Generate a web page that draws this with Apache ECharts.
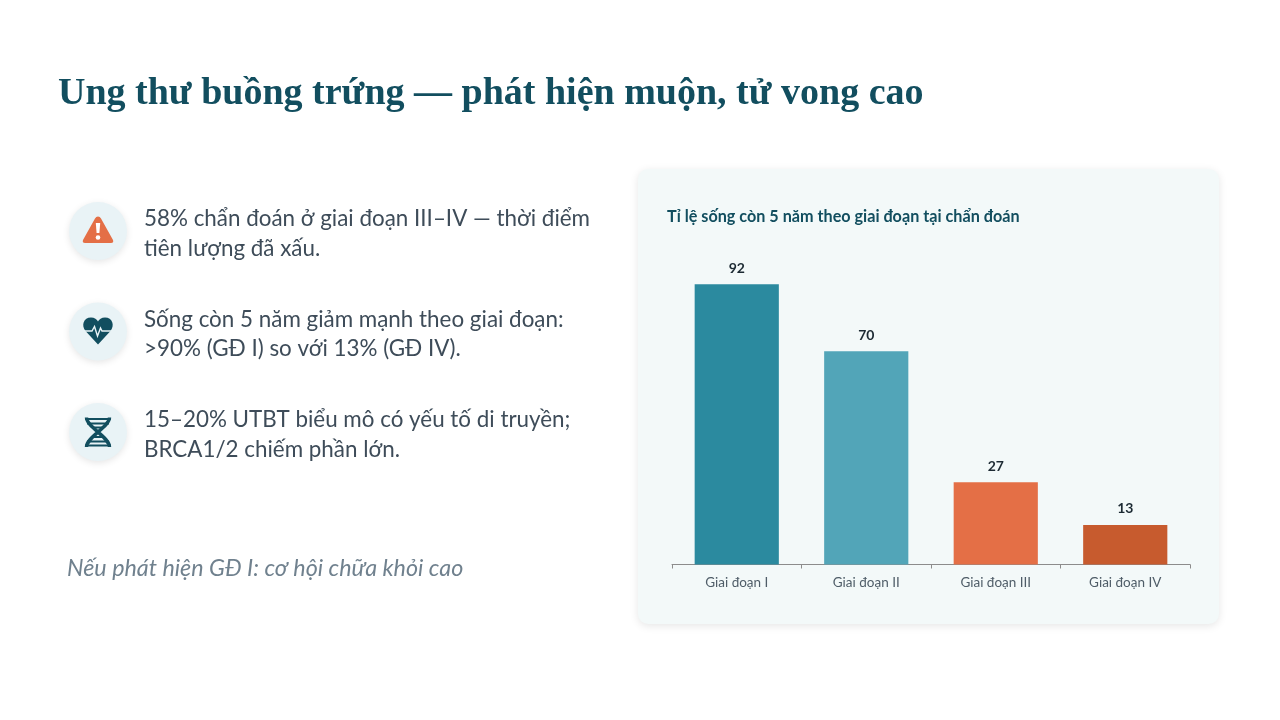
<!DOCTYPE html>
<html><head><meta charset="utf-8">
<style>html,body{margin:0;padding:0;background:#fff}#c{width:1280px;height:720px}</style>
<script src="https://cdn.jsdelivr.net/npm/echarts@6/dist/echarts.min.js"></script>
</head><body><div id="c"></div>
<script>
const categories = ['Giai đoạn I','Giai đoạn II','Giai đoạn III','Giai đoạn IV'];
const survival = [92,70,27,13];
const barColors = ['#2B8A9F','#52A5B8','#E46F46','#C75B2E'];
const SANS = 'Lato,"Open Sans",sans-serif';
const SERIF = '"Liberation Serif",serif';
const DARK='#124E5F', BODY='#3E4C59';
const bullets = [
  {y:231, l:['58% chẩn đoán ở giai đoạn III–IV — thời điểm','tiên lượng đã xấu.']},
  {y:331.5, l:['Sống còn 5 năm giảm mạnh theo giai đoạn:','>90% (GĐ I) so với 13% (GĐ IV).']},
  {y:432, l:['15–20% UTBT biểu mô có yếu tố di truyền;','BRCA1/2 chiếm phần lớn.']}
];
function reg(name,d){echarts.graphic.registerShape(name,echarts.graphic.extendPath(d,{}));}
reg('warnTri','M98 216.5 Q100 216.5 101 218.5 L113 240 Q114 243 111 243 L85 243 Q82 243 83 240 L95 218.5 Q96 216.5 98 216.5 Z');
reg('warnBar','M95.8 223 L100.2 223 L99.4 233 L96.6 233 Z');
reg('heart','M98 344.5 L85.5 331 C81 325.5 83.5 317.5 91 317.5 C94.5 317.5 97 319.5 98 321.5 C99 319.5 101.5 317.5 105 317.5 C112.5 317.5 115 325.5 110.5 331 Z');
reg('helix','M86.5 417.5 C86.5 427 109.5 437 109.5 447 M109.5 417.5 C109.5 427 86.5 437 86.5 447');
reg('rungs','M85 419 L111 419 M87 423.5 L109 423.5 M92 427.5 L104 427.5 M92 437 L104 437 M87 441.5 L109 441.5 M85 445.5 L111 445.5');
const g = [];
g.push({type:'rect',z:0,shape:{x:638,y:169,width:581,height:455,r:10},
  style:{fill:'#F3F9F9',shadowBlur:8,shadowColor:'rgba(0,0,0,0.10)',shadowOffsetY:2}});
g.push({type:'text',z:2,style:{x:58,y:94,text:'Ung thư buồng trứng — phát hiện muộn, tử vong cao',
  font:'bold 38px '+SERIF,fill:DARK,verticalAlign:'middle'}});
g.push({type:'text',z:2,style:{x:667,y:217,text:'Tỉ lệ sống còn 5 năm theo giai đoạn tại chẩn đoán',
  font:'bold 16.2px '+SANS,fill:DARK,verticalAlign:'middle'}});
g.push({type:'text',z:2,style:{x:67,y:568,text:'Nếu phát hiện GĐ I: cơ hội chữa khỏi cao',
  font:'italic 23.3px '+SANS,fill:'#70818E',verticalAlign:'middle'}});
bullets.forEach(b=>{
  g.push({type:'circle',z:1,shape:{cx:98,cy:b.y,r:29},
    style:{fill:'#E9F3F6',shadowBlur:7,shadowColor:'rgba(0,0,0,0.10)',shadowOffsetY:2}});
  b.l.forEach((t,i)=>g.push({type:'text',z:2,style:{x:144,y:b.y-12+i*29.5,text:t,
    font:'22.4px '+SANS,fill:BODY,verticalAlign:'middle'}}));
});
g.push({type:'warnTri',z:3,shape:{},style:{fill:'#E46F46'}});
g.push({type:'warnBar',z:4,shape:{},style:{fill:'#fff'}});
g.push({type:'circle',z:4,shape:{cx:98,cy:237.5,r:2.3},style:{fill:'#fff'}});
g.push({type:'heart',z:3,shape:{},style:{fill:DARK}});
g.push({type:'polyline',z:4,shape:{points:[[84,331],[92,331],[94.5,326.5],[97.5,336],[100.5,328],[102,331],[112,331]]},style:{stroke:'#E9F3F6',lineWidth:1.4,fill:null}});
g.push({type:'helix',z:3,shape:{},style:{stroke:DARK,lineWidth:3.4,fill:null}});
g.push({type:'rungs',z:3,shape:{},style:{stroke:DARK,lineWidth:2,fill:null}});

const chart = echarts.init(document.getElementById('c'),null,{renderer:'canvas'});
chart.setOption({
  animation:false,
  backgroundColor:'#fff',
  graphic:{elements:g},
  grid:{left:672,width:518,top:260,height:304.5,containLabel:false,z:5},
  xAxis:{type:'category',data:categories,
    axisLine:{lineStyle:{color:'#8C8C8C',width:1}},
    axisTick:{show:true,alignWithLabel:false,length:4,lineStyle:{color:'#8C8C8C'}},
    axisLabel:{color:'#4F5D68',fontSize:13.5,fontFamily:SANS,margin:11}},
  yAxis:{type:'value',min:0,max:100,show:false,splitLine:{show:false}},
  series:[{type:'bar',barWidth:'65%',z:5,
    data:survival.map((v,i)=>({value:v,itemStyle:{color:barColors[i]}})),
    label:{show:true,position:'top',distance:9,color:'#1C2A33',fontWeight:'bold',fontSize:14,fontFamily:SANS}}]
});
</script></body></html>
